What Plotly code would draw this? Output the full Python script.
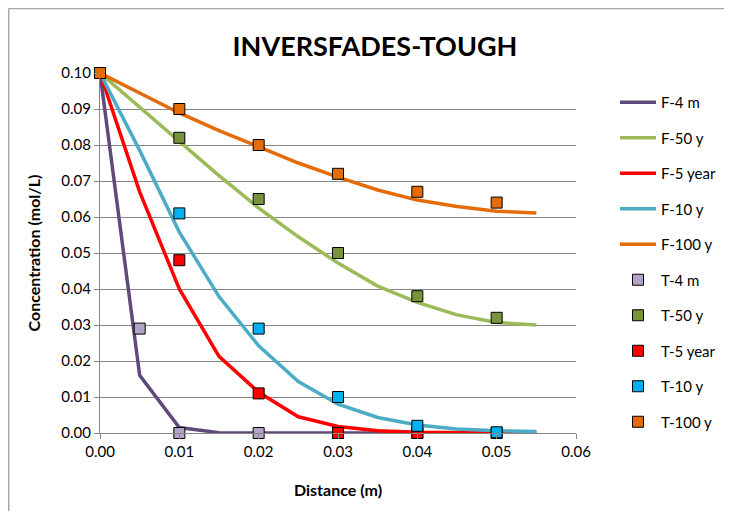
import plotly.graph_objects as go

# Distances for model (F) curves and test (T) points
x_model = [0.0, 0.005, 0.01, 0.015, 0.02, 0.025, 0.03, 0.035, 0.04, 0.045, 0.05, 0.055]
f_4m = [0.1, 0.016, 0.0015, 0.0001, 0.0, 0.0, 0.0, 0.0, 0.0, 0.0, 0.0, 0.0]
f_50y = [0.1, 0.0906, 0.081, 0.0715, 0.0625, 0.0545, 0.0472, 0.0408, 0.0363, 0.0328, 0.0307, 0.0300]
f_5yr = [0.1, 0.067, 0.040, 0.0213, 0.0113, 0.0045, 0.0018, 0.0006, 0.0002, 0.0001, 0.0, 0.0]
f_10y = [0.1, 0.0785, 0.0558, 0.0379, 0.0242, 0.0143, 0.0080, 0.0043, 0.0022, 0.0011, 0.0006, 0.0004]
f_100y = [0.1, 0.0945, 0.0889, 0.0840, 0.0794, 0.0750, 0.0711, 0.0675, 0.0647, 0.0629, 0.0616, 0.0611]

x_t4m = [0.0, 0.005, 0.01, 0.02, 0.03, 0.04]
t_4m = [0.1, 0.029, 0.0, 0.0, 0.0, 0.0]
x_test = [0.0, 0.01, 0.02, 0.03, 0.04, 0.05]
t_50y = [0.1, 0.082, 0.065, 0.050, 0.038, 0.032]
t_5yr = [0.1, 0.048, 0.011, 0.0, 0.0, 0.0]
t_10y = [0.1, 0.061, 0.029, 0.010, 0.002, 0.0002]
t_100y = [0.1, 0.090, 0.080, 0.072, 0.067, 0.064]

x_ticks = [0.0, 0.01, 0.02, 0.03, 0.04, 0.05, 0.06]
y_ticks = [0.0, 0.01, 0.02, 0.03, 0.04, 0.05, 0.06, 0.07, 0.08, 0.09, 0.10]

FONT = "Lato"
fig = go.Figure()

lines = [
    ("F-4 m", f_4m, "#604A7B"),
    ("F-50 y", f_50y, "#9BBB59"),
    ("F-5 year", f_5yr, "#FF0000"),
    ("F-10 y", f_10y, "#4BACC6"),
    ("F-100 y", f_100y, "#E36C09"),
]
for i, (name, ys, col) in enumerate(lines):
    fig.add_trace(go.Scatter(x=x_model, y=ys, name=name, mode="lines",
                             line=dict(color=col, width=3.5),
                             legendgroup=f"g{i}", cliponaxis=False))

points = [
    ("T-4 m", x_t4m, t_4m, "#B3A2C7"),
    ("T-50 y", x_test, t_50y, "#77933C"),
    ("T-5 year", x_test, t_5yr, "#FF0000"),
    ("T-10 y", x_test, t_10y, "#00B0F0"),
    ("T-100 y", x_test, t_100y, "#E36C09"),
]
for i, (name, xs, ys, col) in enumerate(points):
    fig.add_trace(go.Scatter(x=xs, y=ys, name=name, mode="markers",
                             marker=dict(symbol="square", size=11, color=col,
                                         line=dict(color="#000000", width=1)),
                             legendgroup=f"h{i}", cliponaxis=False))

OFF = 8  # page offset of the figure
W, H = 724, 503
L, T = 100 - OFF, 73 - OFF
R = W - (577 - OFF)
B = H - (433 - OFF)
pw, ph = W - L - R, H - T - B

border = dict(color="#A6A6A6", width=1.5)
fig.update_layout(
    width=W, height=H,
    margin=dict(l=L, r=R, t=T, b=B),
    paper_bgcolor="white", plot_bgcolor="white",
    font=dict(family=FONT, size=15, color="#000000"),
    title=dict(text="<b>INVERSFADES-TOUGH</b>", font=dict(family=FONT, size=27, color="#000000"),
               x=(375 - OFF) / W, xanchor="center", y=1 - (47 - OFF) / H, yanchor="middle",
               xref="container", yref="container"),
    showlegend=True,
    legend=dict(x=(615 - OFF - L) / pw, xanchor="left", y=1 - (86 - OFF - T) / ph, yanchor="top",
                font=dict(family=FONT, size=15), tracegroupgap=13, itemwidth=36,
                bgcolor="rgba(0,0,0,0)", maxheight=1),
    xaxis=dict(range=[0, 0.06], tickvals=x_ticks, tickformat=".2f", showgrid=False,
               showline=True, linecolor="#868686", linewidth=1, ticks="outside", ticklen=5,
               tickcolor="#868686", zeroline=False,
               title=dict(text="<b>Distance (m)</b>", font=dict(family=FONT, size=16), standoff=25)),
    yaxis=dict(range=[0, 0.1], tickvals=y_ticks, tickformat=".2f", showgrid=True,
               gridcolor="#868686", gridwidth=1, showline=True, linecolor="#868686", linewidth=1,
               ticks="outside", ticklen=5, tickcolor="#868686", zeroline=False,
               title=dict(text="<b>Concentration (mol/L)</b>", font=dict(family=FONT, size=16), standoff=16)),
    shapes=[
        dict(type="line", xref="paper", yref="paper",
             x0=(0.5 - L) / pw, x1=(0.5 - L) / pw, y0=-(B + 20) / ph, y1=1 + (T - 0.5) / ph,
             line=border, layer="below"),
        dict(type="line", xref="paper", yref="paper",
             x0=(0.5 - L) / pw, x1=(W + 20 - L) / pw, y0=1 + (T - 0.5) / ph, y1=1 + (T - 0.5) / ph,
             line=border, layer="below"),
    ],
)

fig.write_html("out.html")
